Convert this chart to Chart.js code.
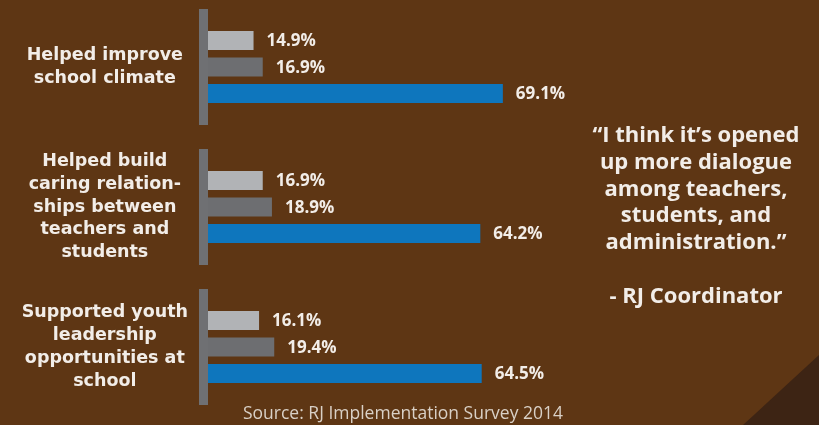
<!DOCTYPE html>
<html>
<head>
<meta charset="utf-8">
<script src="https://cdn.jsdelivr.net/npm/chart.js@4.4.1/dist/chart.umd.min.js"></script>
<style>
  html, body { margin: 0; padding: 0; }
  body {
    width: 819px; height: 425px; overflow: hidden; position: relative;
    background: #5e3614;
  }
  #wrap { position: absolute; left: 0; top: -3px; width: 819px; height: 420px; }
  #corner {
    position: absolute; left: 0; top: 0; width: 819px; height: 425px;
    background: #3d2414;
    clip-path: polygon(743px 425px, 819px 355px, 819px 425px);
  }
  #quote {
    position: absolute; left: 546px; top: 120px; width: 300px;
    text-align: center; color: #f2ede8;
    font: bold 22px/26.8px "Open Sans", sans-serif;
  }
  #source {
    position: absolute; left: 203px; top: 404px; width: 400px;
    text-align: center; color: #d9d0c6;
    font: 17.5px/17px "Open Sans", sans-serif;
  }
</style>
</head>
<body>
<div id="corner"></div>
<div id="wrap"><canvas id="chart"></canvas></div>
<div id="quote">“I think it’s opened<br>up more dialogue<br>among teachers,<br>students, and<br>administration.”<br><br>- RJ Coordinator</div>
<div id="source">Source: RJ Implementation Survey 2014</div>

<script>
  // ========== DATA ==========
  const categories = [
    ["Helped improve", "school climate"],
    ["Helped build", "caring relation-", "ships between", "teachers and", "students"],
    ["Supported youth", "leadership", "opportunities at", "school"],
  ];
  const seriesLight = [14.9, 16.9, 16.1];
  const seriesDark = [16.9, 18.9, 19.4];
  const seriesBlue = [69.1, 64.2, 64.5];

  const TEXT = "#f2ede8";

  // gray axis segment per group
  const groupAxis = {
    id: "groupAxis",
    beforeDatasetsDraw(chart) {
      const { ctx } = chart;
      const y = chart.scales.y;
      const left = chart.chartArea.left;
      ctx.save();
      ctx.fillStyle = "#6f7073";
      y.ticks.forEach((t, i) => {
        const cy = y.getPixelForTick(i);
        ctx.fillRect(left - 9, cy - 58, 9, 116);
      });
      ctx.restore();
    },
  };

  // value labels right of each bar
  const valueLabels = {
    id: "valueLabels",
    afterDatasetsDraw(chart) {
      const { ctx } = chart;
      ctx.save();
      ctx.fillStyle = TEXT;
      ctx.font = "bold 17px 'Open Sans', sans-serif";
      ctx.textAlign = "left";
      ctx.textBaseline = "middle";
      chart.data.datasets.forEach((ds, di) => {
        chart.getDatasetMeta(di).data.forEach((bar, i) => {
          ctx.fillText(ds.data[i].toFixed(1) + "%", bar.x + 13, bar.y + 1);
        });
      });
      ctx.restore();
    },
  };

  new Chart(document.getElementById("chart"), {
    type: "bar",
    data: {
      labels: categories,
      datasets: [
        { data: seriesLight, backgroundColor: "#b1b3b6" },
        { data: seriesDark, backgroundColor: "#6d6e71" },
        { data: seriesBlue, backgroundColor: "#0e76bd" },
      ],
    },
    options: {
      indexAxis: "y",
      responsive: true,
      maintainAspectRatio: false,
      animation: false,
      categoryPercentage: 0.568,
      barPercentage: 0.72,
      layout: { padding: { left: 0, right: 174, top: 0, bottom: 0 } },
      plugins: { legend: { display: false }, tooltip: { enabled: false } },
      scales: {
        x: { display: false, min: 5, max: 100 },
        y: {
          grid: { display: false, drawTicks: false },
          border: { display: false },
          afterFit: (scale) => {
            scale.width = 208;
            scale.paddingTop = 0;
            scale.paddingBottom = 0;
          },
          ticks: {
            autoSkip: false,
            crossAlign: "center",
            padding: 20,
            color: TEXT,
            font: { family: "'DejaVu Sans'", weight: "bold", size: 17.5, lineHeight: 1.3 },
          },
        },
      },
    },
    plugins: [groupAxis, valueLabels],
  });
</script>
</body>
</html>
